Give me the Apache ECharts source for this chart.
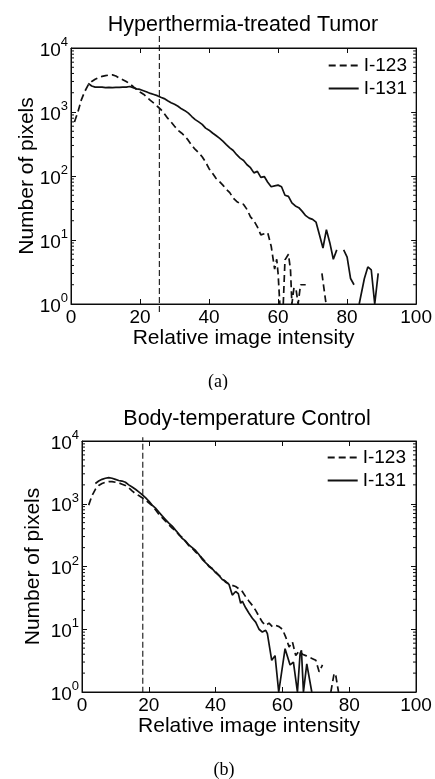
<!DOCTYPE html>
<html>
<head>
<meta charset="utf-8">
<script src="https://cdn.jsdelivr.net/npm/echarts@6/dist/echarts.min.js"></script>
<style>
html,body{margin:0;padding:0;background:#fff;}
#chartA{position:absolute;left:0;top:0;width:435px;height:390px;}
#chartB{position:absolute;left:0;top:390px;width:435px;height:389px;}
</style>
</head>
<body>
<div id="chartA"></div>
<div id="chartB"></div>
<script>
// ---------- data ----------
var titleA = 'Hyperthermia-treated Tumor';
var titleB = 'Body-temperature Control';
var captionA = '(a)';
var captionB = '(b)';
var xAxisName = 'Relative image intensity';
var yAxisName = 'Number of pixels';
var seriesNames = ['I-123', 'I-131'];
var xTicks = [0, 20, 40, 60, 80, 100];
var yDecades = [1, 10, 100, 1000, 10000];
var thresholdA = 25.6;
var thresholdB = 18.2;
// vertical extent of the threshold dashed lines (y data units)
var thresholdSpanA = [0.75, 17000];
var thresholdSpanB = [0.97, 11500];

// Panel (a) I-123 (dashed)
var a123 = [[1,700],[2,1000],[3,1550],[4,2100],[5,2650],[6,3000],[7,3250],[8,3450],[9,3600],[10,3700],
[11,3780],[12,3800],[13,3650],[14,3400],[15,3200],[16,3000],[17,2750],[18,2500],[19,2250],[20,2050],
[21,1900],[22,1700],[23,1520],[24,1380],[25,1230],[26,1100],[27,950],[28,800],[29,700],[30,600],
[31,520],[32,470],[33,420],[34,360],[35,300],[36,260],[37,230],[38,200],[39,165],[40,130],
[41,110],[42,92],[43,82],[44,72],[45,62],[46,55],[47,45],[48,40],[49,37],[50,36],
[51,30],[52,23],[53,20],[54,16],[55,12],[56,12.5],[57,13],[58,8],[59,3.5],[59.6,5],[60,3],[60.5,1],
[61,null],[61.5,1],[62,4.9],[63,6],[63.6,3.4],[64,1],[64.6,1.8],[65.2,1.7],[65.8,1],[66.5,2],[67,2],[68,2],
[70,null],[72.7,3],[73.9,1]];

// Panel (a) I-131 (solid)
var a131 = [[5,2800],[6,2550],[7,2450],[8,2450],[9,2450],[10,2400],[11,2420],[12,2400],[13,2430],[14,2420],
[15,2450],[16,2450],[17,2500],[18,2400],[19,2300],[20,2250],[21,2150],[22,2050],[23,1950],[24,1880],
[25,1800],[26,1700],[27,1620],[28,1500],[29,1400],[30,1320],[31,1230],[32,1120],[33,1050],[34,960],
[35,850],[36,760],[37,700],[38,640],[39,560],[40,520],[41,470],[42,430],[43,390],[44,350],
[45,310],[46,275],[47,250],[48,215],[49,190],[50,175],[51,150],[52,135],[53,112],[54,118],
[55,95],[56,98],[57,80],[58,68],[59,70],[60,72],[61,68],[62,50],[63,48],[64,38],
[65,34],[66,32],[67,28],[68,24],[69,22],[70,21],[71,19],[72,12],[73,7.5],[74,14.5],
[75,9],[76,5],[77,7],[78,null],[79,7],[80,5.4],[81,2.5],[82,2],[83,null],[83.5,1],
[85,2.5],[86,3.8],[87,3.4],[88,1],[89,3]];

// Panel (b) I-123 (dashed)
var b123 = [[2,950],[3,1350],[4,1700],[5,1950],[6,2100],[7,2200],[8,2250],[9,2250],[10,2200],
[11,2150],[12,2050],[13,1950],[14,1800],[15,1600],[16,1450],[17,1350],[18,1250],[19,1150],[20,1030],
[21,930],[22,800],[23,680],[24,600],[25,530],[26,460],[27,410],[28,370],[29,320],[30,290],
[31,250],[32,215],[33,195],[34,170],[35,155],[36,135],[37,118],[38,100],[39,92],[40,82],
[41,72],[42,65],[43,56],[44,53],[45,50],[46,48],[47,44],[48,40],[49,33],[50,28],
[51,24],[52,20],[53,16],[54,13],[55,11.5],[56,12.5],[57,11],[58,11.5],[59,11],[60,10],
[61,7.5],[62,5.2],[63,6.3],[64,3.8],[65,4.5],[66,4],[67,3.8],[68,3.6],[69,3.4],[70,3.2],
[71,2.1],[72,2.7],[73,null],[74.5,1],[75.5,2],[76,1.8],[76.8,1]];

// Panel (b) I-131 (solid)
var b131 = [[4,2100],[5,2300],[6,2450],[7,2550],[8,2600],[9,2550],[10,2450],[11,2350],[12,2300],
[13,2200],[14,2000],[15,1850],[16,1700],[17,1550],[18,1400],[19,1250],[20,1100],[21,950],[22,850],
[23,740],[24,640],[25,560],[26,490],[27,440],[28,380],[29,330],[30,280],[31,255],[32,220],
[33,200],[34,180],[35,155],[36,130],[37,115],[38,102],[39,92],[40,80],[41,72],[42,62],
[43,58],[44,52],[45,35],[46,40],[46.8,37],[47.5,26],[48,28],[49,22],[50,18],[51,15],
[52,13],[53,10],[54,9],[55,9.6],[55.5,8.5],[56.8,3.2],[57.8,3.8],[58.9,1],[60.8,4.9],[62.3,2.7],
[63.3,3],[64.5,1],[65.3,4.1],[65.7,4.6],[66.3,1],[67.3,2.8],[67.8,3],[68.8,1]];

// ---------- chart ----------
var FONT = '"Liberation Sans", Arial, sans-serif';
var SERIF = '"Liberation Serif", "Times New Roman", serif';
// distinct near-black stroke colours so that every stroke explicitly sets its colour
var C_AXIS = '#0b0b0b', C_TICK = '#0c0c0c', C_MINOR = '#0d0d0d', C_BORDER = '#0e0e0e';
var C_SER = '#111111', C_THR = '#141414';

var minorTickVals = [];
for (var k = 0; k < yDecades.length - 1; k++) {
  for (var m = 2; m <= 9; m++) minorTickVals.push([0, m * yDecades[k]]);
}

function supLabel(v) {
  var e = Math.round(Math.log(v) / Math.LN10);
  return '{b|10}{s|' + e + '}';
}
function axLine() { return {show: true, onZero: false, lineStyle: {color: C_AXIS, width: 1, opacity: 1}}; }
function axTick() { return {show: true, inside: true, length: 5, lineStyle: {color: C_TICK, width: 1, opacity: 1}}; }

function makePanel(el, p) {
  var option = {
    animation: false,
    grid: [{left: p.grid[0], top: p.grid[1], width: p.grid[2], height: p.grid[3],
            show: true, borderColor: C_BORDER, borderWidth: 1, backgroundColor: 'transparent'}],
    xAxis: [{
      gridIndex: 0, type: 'value', min: xTicks[0], max: xTicks[xTicks.length - 1], interval: 20, position: 'bottom',
      name: xAxisName, nameLocation: 'middle', nameGap: p.xNameGap, nameMoveOverlap: false,
      nameTextStyle: {fontFamily: FONT, fontSize: 21, color: '#000'},
      axisLine: axLine(), axisTick: axTick(),
      axisLabel: {fontFamily: FONT, fontSize: 19, color: '#000', margin: 4},
      splitLine: {show: false}
    }, {
      gridIndex: 0, type: 'value', min: xTicks[0], max: xTicks[xTicks.length - 1], interval: 20, position: 'top',
      axisLine: axLine(), axisTick: axTick(), axisLabel: {show: false}, splitLine: {show: false}, z: 5
    }],
    yAxis: [{
      gridIndex: 0, type: 'log', logBase: 10, min: yDecades[0], max: yDecades[yDecades.length - 1], position: 'left',
      name: yAxisName, nameLocation: 'middle', nameGap: p.yNameGap, nameMoveOverlap: false,
      nameTextStyle: {fontFamily: FONT, fontSize: 21, color: '#000'},
      axisLine: axLine(), axisTick: axTick(),
      axisLabel: {
        formatter: supLabel, margin: 3,
        rich: {
          b: {fontFamily: FONT, fontSize: 19, color: '#000', verticalAlign: 'bottom'},
          s: {fontFamily: FONT, fontSize: 13, color: '#000', verticalAlign: 'bottom', padding: [0, 0, 11, 0]}
        }
      },
      splitLine: {show: false}
    }, {
      gridIndex: 0, type: 'log', logBase: 10, min: yDecades[0], max: yDecades[yDecades.length - 1], position: 'right',
      axisLine: axLine(), axisTick: axTick(), axisLabel: {show: false}, splitLine: {show: false}, z: 5
    }],
    legend: [{
      data: seriesNames, orient: 'vertical', padding: 0, itemWidth: 30, itemHeight: 14, itemGap: 4,
      right: p.legend[0], top: p.legend[1],
      textStyle: {fontFamily: FONT, fontSize: 19, color: '#000'}, selectedMode: false,
      itemStyle: {opacity: 0}
    }],
    graphic: [
      {type: 'text', x: p.title[1], y: p.title[2], style: {text: p.title[0], font: '21.5px ' + FONT, fill: '#000', textAlign: 'center', textVerticalAlign: 'middle'}},
      {type: 'text', x: p.caption[1], y: p.caption[2], style: {text: p.caption[0], font: '18px ' + SERIF, fill: '#000', textAlign: 'center', textVerticalAlign: 'middle'}}
    ],
    series: [{
      name: seriesNames[0], type: 'line', data: p.s123, showSymbol: false, symbol: 'none', connectNulls: false,
      lineStyle: {color: C_SER, width: 1.7, type: [7, 4]}, itemStyle: {color: C_SER}
    }, {
      name: seriesNames[1], type: 'line', data: p.s131, showSymbol: false, symbol: 'none', connectNulls: false,
      lineStyle: {color: C_SER, width: 1.7, type: 'solid'}, itemStyle: {color: C_SER}
    }, {
      name: 'threshold', type: 'line', data: [[p.thr, p.thrSpan[0]], [p.thr, p.thrSpan[1]]], clip: false, silent: true,
      showSymbol: false, symbol: 'none', lineStyle: {color: C_THR, width: 1.1, type: [6, 3]}
    }, {
      type: 'custom', xAxisIndex: 0, yAxisIndex: 0, silent: true, z: 6,
      data: minorTickVals, encode: {x: 0, y: 1},
      renderItem: function (params, api) {
        var v = api.value(1);
        var p0 = api.coord([xTicks[0], v]);
        var p1 = api.coord([xTicks[xTicks.length - 1], v]);
        return {
          type: 'group', children: [
            {type: 'line', shape: {x1: p0[0], y1: p0[1], x2: p0[0] + 3, y2: p0[1]}, style: {stroke: C_MINOR, lineWidth: 1, opacity: 1, lineDash: null}},
            {type: 'line', shape: {x1: p1[0] - 3, y1: p1[1], x2: p1[0], y2: p1[1]}, style: {stroke: C_MINOR, lineWidth: 1, opacity: 1, lineDash: null}}
          ]
        };
      }
    }]
  };
  var c = echarts.init(el);
  c.setOption(option);
  return c;
}

makePanel(document.getElementById('chartA'), {
  grid: [71, 48, 347, 256], xNameGap: 24, yNameGap: 33, legend: [28, 56],
  title: [titleA, 243, 25], caption: [captionA, 218, 382],
  s123: a123, s131: a131, thr: thresholdA, thrSpan: thresholdSpanA
});
makePanel(document.getElementById('chartB'), {
  grid: [82, 51, 334, 251], xNameGap: 24, yNameGap: 38, legend: [29, 58],
  title: [titleB, 247, 29], caption: [captionB, 224, 380],
  s123: b123, s131: b131, thr: thresholdB, thrSpan: thresholdSpanB
});
</script>
</body>
</html>
